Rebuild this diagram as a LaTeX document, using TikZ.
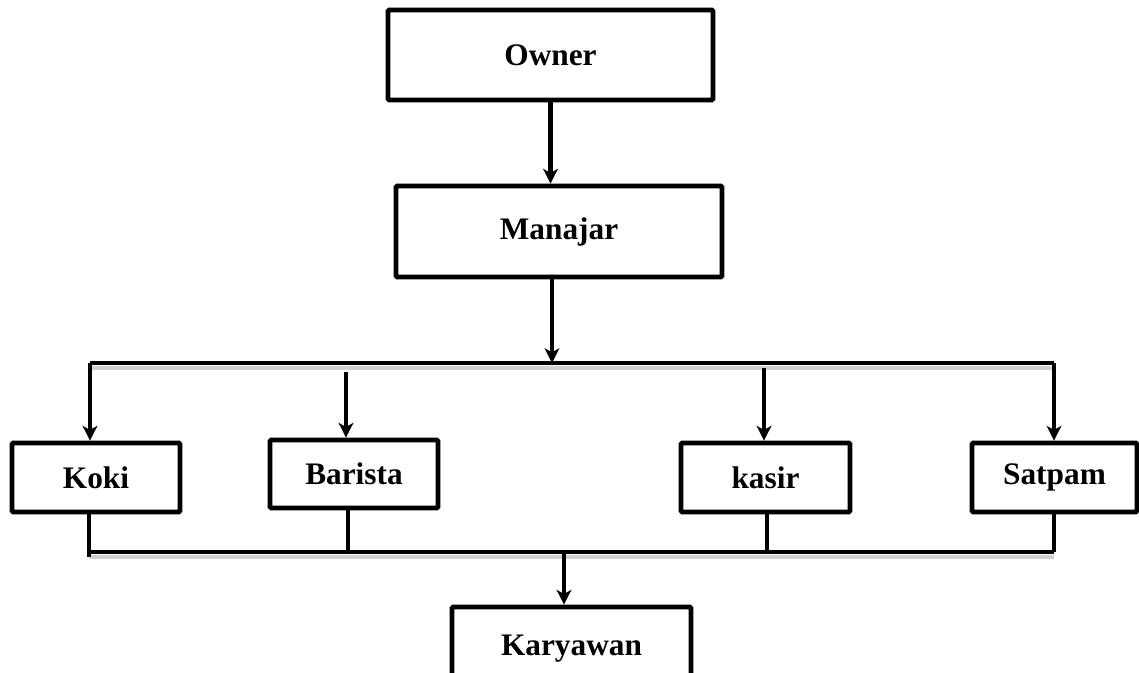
\documentclass[tikz,border=0pt]{standalone}
\usepackage{fontspec}
\setmainfont{Liberation Serif}
\usetikzlibrary{arrows.meta}
\begin{document}
\begin{tikzpicture}[x=0.75pt,y=-0.75pt,
  box/.style={draw=black,line width=3.6pt,rectangle,rounded corners=1pt,fill=white,
    inner sep=0pt,font=\fontsize{23.5}{28}\selectfont\bfseries},
  conn/.style={line width=3.6pt,line join=round},
  arr/.style={conn,-{Stealth[length=11pt,width=11pt,inset=3pt]}},
  shadowline/.style={line width=3pt,draw=black!18}]
\clip (0,0) rectangle (1139,673);
\useasboundingbox (0,0) rectangle (1139,673);
% boxes
\node[box,minimum width=243.75pt,minimum height=67.5pt] (Owner) at (550.5,55) {Owner};
\node[box,minimum width=244.5pt,minimum height=68.25pt] (Manajar) at (559,231.5) {Manajar};
\node[box,minimum width=126pt,minimum height=51.75pt] (Koki) at (96,477.5) {Koki};
\node[box,minimum width=126pt,minimum height=51pt] (Barista) at (354,474) {Barista};
\node[box,minimum width=126.75pt,minimum height=51.75pt] (kasir) at (765.5,477.5) {kasir};
\node[box,minimum width=123.75pt,minimum height=51.75pt] (Satpam) at (1054.5,477.5) {Satpam};
\node[box,minimum width=179.25pt,minimum height=62.25pt] (Karyawan) at (571.5,648.5) {Karyawan};
% coordinates
\coordinate (busL) at (90,363);
\coordinate (busR) at (1054,363);
\coordinate (busM) at (552,363);
\coordinate (bA) at (346,372);
\coordinate (kA) at (764,368);
\coordinate (botL) at (89,552);
\coordinate (botR) at (1054,552);
\coordinate (botB) at (348,552);
\coordinate (botK) at (767,552);
\coordinate (botM) at (564,552);
% shadows
\draw[shadowline] ([yshift=-3.5pt]busL) -- ([yshift=-3.5pt]busR);
\draw[shadowline] ([yshift=-3.5pt]botL) -- ([yshift=-3.5pt]botR);
% connectors
\draw[arr] (Owner.south) -- (Owner.south |- Manajar.north);
\draw[arr] (Manajar.south -| busM) -- (busM);
\draw[conn] (busL) -- (busR);
\draw[arr] (busL) -- (Koki.north -| busL);
\draw[arr] (bA) -- (Barista.north -| bA);
\draw[arr] (kA) -- (kasir.north -| kA);
\draw[arr] (busR) -- (Satpam.north -| busR);
\draw[conn] (Koki.south -| botL) -- ([yshift=-4pt]botL);
\draw[conn] (Barista.south -| botB) -- (botB);
\draw[conn] (kasir.south -| botK) -- (botK);
\draw[conn] (Satpam.south -| botR) -- (botR);
\draw[conn] (botL) -- (botR);
\draw[arr] (botM) -- (Karyawan.north -| botM);
\end{tikzpicture}
\end{document}
